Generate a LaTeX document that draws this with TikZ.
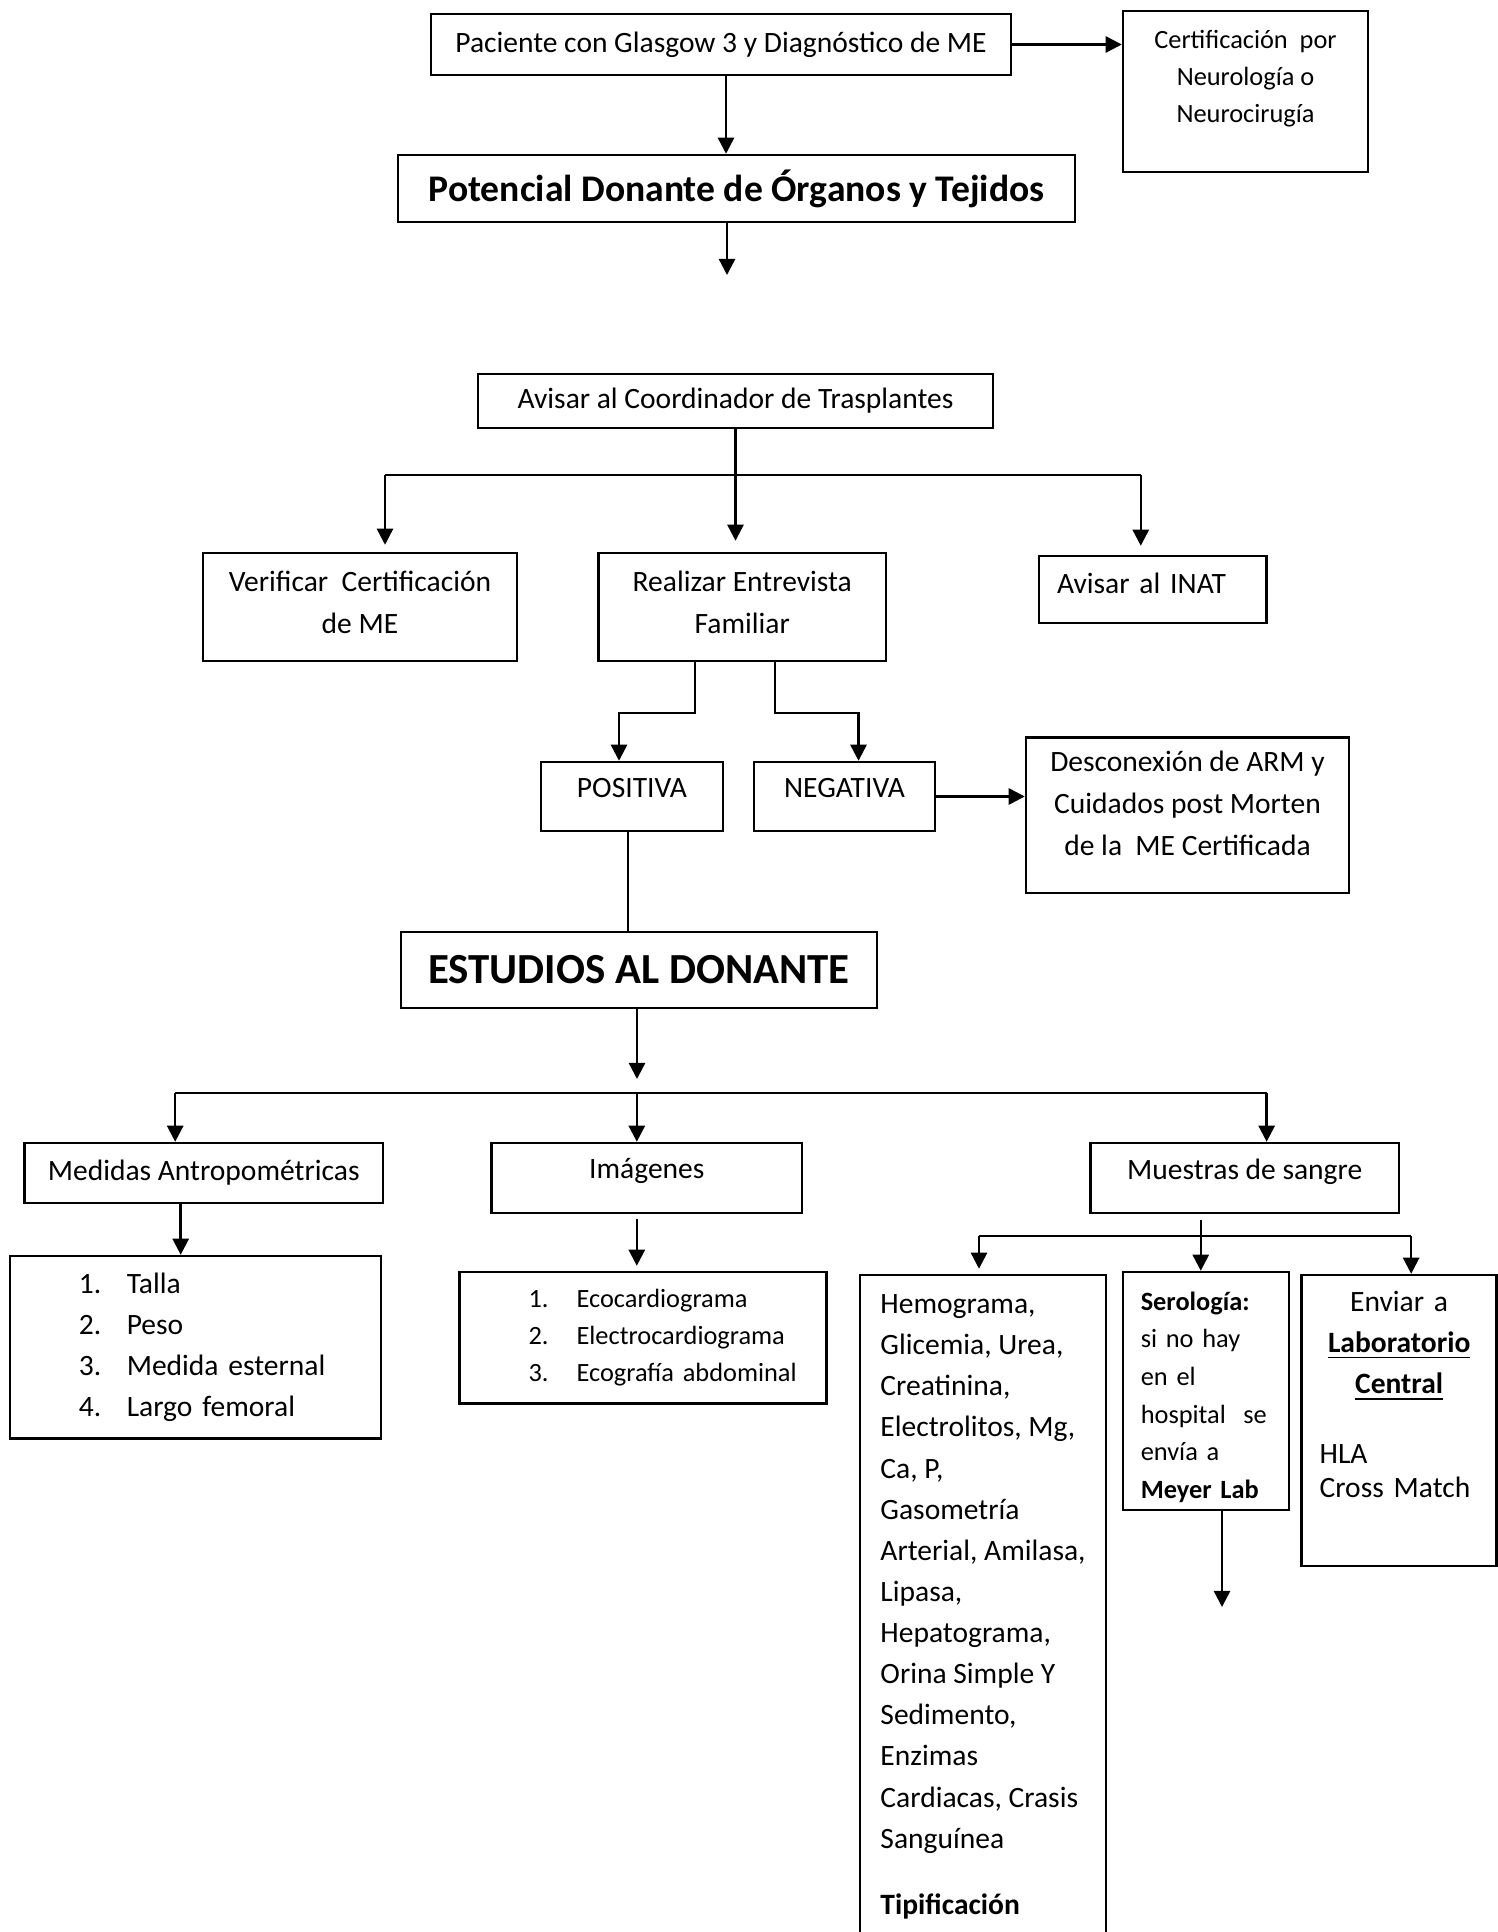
\documentclass[tikz,border=0pt]{standalone}
\usepackage{fontspec}
\setmainfont{Carlito}
\usetikzlibrary{arrows.meta}
\newcommand{\dnfont}[2]{\fontsize{#1}{#2}\selectfont}
\newcommand{\dnitem}[2]{\makebox[0.48cm][l]{#1}\mbox{#2}}
\newcommand{\lowstrut}[1]{\rule[-#1]{0pt}{#1}}
\tikzset{
  dnbox/.style={draw, line width=0.7pt, align=center, inner sep=0pt, font=\dnfont{8.4}{10}},
  dnarr/.style={-{Triangle[length=4.6pt, width=4.6pt]}, line width=0.7pt},
  dnline/.style={line width=0.7pt}
}

\begin{document}
\begin{tikzpicture}
  \useasboundingbox (0,0) rectangle (14.97,-19.32);
  \node[dnbox, minimum width=5.80cm, minimum height=0.61cm] (paciente) at (7.21,-0.445) {Paciente con Glasgow 3 y Diagnóstico de ME};
  \node[dnbox, minimum width=2.45cm, minimum height=1.61cm, font=\dnfont{7.5}{10.5}] (certif) at (12.455,-0.915) {Certificación\ \ por\\Neurología o\\Neurocirugía\lowstrut{8.5pt}};
  \node[dnbox, minimum width=6.77cm, minimum height=0.67cm, font=\dnfont{10.7}{13}\bfseries] (potencial) at (7.365,-1.885) {Potencial Donante de Órganos y Tejidos};
  \coordinate (potend) at (7.27,-2.75);
  \node[dnbox, minimum width=5.15cm, minimum height=0.54cm] (coordinador) at (7.355,-4.01) {Avisar al Coordinador de Trasplantes};
  \coordinate (coordbar) at (0,-4.75);
  \node[dnbox, minimum width=3.14cm, minimum height=1.08cm, font=\dnfont{8.4}{12}] (verificar) at (3.60,-6.07) {Verificar\ \ Certificación\\de ME\lowstrut{2.6pt}};
  \node[dnbox, minimum width=2.875cm, minimum height=1.08cm, font=\dnfont{8.4}{12}] (entrevista) at (7.4225,-6.07) {Realizar Entrevista\\Familiar\lowstrut{2.6pt}};
  \node[dnbox, minimum height=0.67cm, text width=1.915cm, inner xsep=0.18cm, align=left] (inat) at (11.5275,-5.895) {Avisar al INAT\lowstrut{3.7pt}};
  \node[dnbox, minimum width=1.82cm, minimum height=0.69cm] (positiva) at (6.32,-7.965) {POSITIVA\lowstrut{4.6pt}};
  \node[dnbox, minimum width=1.81cm, minimum height=0.69cm] (negativa) at (8.445,-7.965) {NEGATIVA\lowstrut{4.6pt}};
  \node[dnbox, minimum width=3.23cm, minimum height=1.555cm, font=\dnfont{8.4}{12}] (desconexion) at (11.875,-8.1525) {Desconexión de ARM y\\Cuidados post Morten\\de la\ \ ME Certificada\lowstrut{6.8pt}};
  \node[dnbox, minimum width=4.76cm, minimum height=0.76cm, font=\dnfont{12.2}{14}\bfseries] (estudios) at (6.39,-9.70) {ESTUDIOS AL DONANTE};
  \coordinate (estend) at (6.37,-10.79);
  \coordinate (estbar) at (0,-10.93);
  \node[dnbox, minimum width=3.586cm, minimum height=0.60cm] (medidas) at (2.037,-11.73) {Medidas Antropométricas};
  \node[dnbox, minimum width=3.104cm, minimum height=0.70cm] (imagenes) at (6.468,-11.78) {Imágenes\lowstrut{5.2pt}};
  \node[dnbox, minimum width=3.083cm, minimum height=0.70cm] (muestras) at (12.4465,-11.78) {Muestras de sangre\lowstrut{5.2pt}};
  \node[dnbox, minimum height=1.826cm, text width=2.332cm, inner xsep=0.69cm, align=left, font=\dnfont{8.4}{11.7}] (medlist) at (1.954,-13.473) {\dnitem{1.}{Talla}\\\dnitem{2.}{Peso}\\\dnitem{3.}{Medida esternal}\\\dnitem{4.}{Largo femoral}};
  \node[dnbox, minimum height=1.315cm, text width=2.29cm, inner xsep=0.69cm, align=left, font=\dnfont{7.5}{10.5}] (imglist) at (6.431,-13.3775) {\dnitem{1.}{Ecocardiograma}\\\dnitem{2.}{Electrocardiograma}\\\dnitem{3.}{Ecografía abdominal}};
  \coordinate (muesbar) at (0,-12.36);
  \node[dnbox, minimum width=2.46cm, minimum height=7.00cm, align=left, font=\dnfont{8.4}{11.7}] (hemograma) at (9.83,-16.25) {Hemograma,\\Glicemia, Urea,\\Creatinina,\\Electrolitos, Mg,\\Ca, P,\\Gasometría\\Arterial, Amilasa,\\Lipasa,\\Hepatograma,\\Orina Simple Y\\Sedimento,\\Enzimas\\Cardiacas, Crasis\\Sanguínea\\[7.3pt]\textbf{Tipificación}\lowstrut{11.5pt}};
  \node[dnbox, minimum height=2.38cm, text width=1.30cm, inner xsep=0.18cm, align=left, font=\dnfont{7.5}{10.7}] (serologia) at (12.0575,-13.91) {\rule{0pt}{8.8pt}\textbf{Serología:}\\si no hay\\en el\\hospital\ \ se\\envía a\\\textbf{Meyer Lab}};
  \coordinate (serend) at (12.22,-16.07);
  \node[dnbox, minimum height=2.91cm, text width=1.59cm, inner xsep=0.18cm, font=\dnfont{8.4}{11.7}] (laboratorio) at (13.9915,-14.205) {Enviar a\\\underline{\textbf{Laboratorio}}\\\underline{\textbf{Central}}\\[8.2pt]\makebox[1.59cm][l]{HLA}\\[-2pt]\makebox[1.59cm][l]{Cross Match}\lowstrut{14.8pt}};
  \draw[dnarr] (paciente.east) -- (paciente.east -| certif.west);
  \draw[dnarr] ([xshift=0.05cm]paciente.south) -- ([xshift=0.05cm]paciente.south |- potencial.north);
  \draw[dnarr] (potencial.south -| potend) -- (potend);
  \draw[dnline] ([xshift=0.25cm]verificar.north |- coordbar) -- ([xshift=-0.12cm]inat.north |- coordbar);
  \draw[dnarr, shorten >=0.07cm] ([xshift=0.25cm]verificar.north |- coordbar) -- ([xshift=0.25cm]verificar.north);
  \draw[dnarr, shorten >=0.11cm] (coordinador.south) -- (coordinador.south |- entrevista.north);
  \draw[dnarr, shorten >=0.09cm] ([xshift=-0.12cm]inat.north |- coordbar) -- ([xshift=-0.12cm]inat.north);
  \draw[dnarr] ([xshift=-0.475cm]entrevista.south) -- ++(0,-0.51) -| ([xshift=-0.13cm]positiva.north);
  \draw[dnarr] ([xshift=0.33cm]entrevista.south) -- ++(0,-0.51) -| ([xshift=0.14cm]negativa.north);
  \draw[dnarr] (negativa.east) -- (negativa.east -| desconexion.west);
  \draw[dnline] ([xshift=-0.04cm]positiva.south) -- ([xshift=-0.04cm]positiva.south |- estudios.north);
  \draw[dnarr] (estudios.south -| estend) -- (estend);
  \draw[dnline] ([xshift=-0.285cm]medidas.north |- estbar) -- ([xshift=0.22cm]muestras.north |- estbar);
  \draw[dnarr] ([xshift=-0.285cm]medidas.north |- estbar) -- ([xshift=-0.285cm]medidas.north);
  \draw[dnarr] ([xshift=-0.1cm]imagenes.north |- estbar) -- ([xshift=-0.1cm]imagenes.north);
  \draw[dnarr] ([xshift=0.22cm]muestras.north |- estbar) -- ([xshift=0.22cm]muestras.north);
  \draw[dnarr] ([xshift=-0.23cm]medidas.south) -- ([xshift=-0.23cm]medidas.south |- medlist.north);
  \draw[dnarr, shorten <=0.045cm, shorten >=0.05cm] ([xshift=-0.1cm]imagenes.south) -- ([xshift=-0.1cm]imagenes.south |- imglist.north);
  \draw[dnarr, shorten <=0.06cm] ([xshift=-0.05cm]serologia.north |- muestras.south) -- ([xshift=-0.05cm]serologia.north);
  \draw[dnline] ([xshift=-0.04cm]hemograma.north |- muesbar) -- ([xshift=0.12cm]laboratorio.north |- muesbar);
  \draw[dnarr, shorten >=0.05cm] ([xshift=-0.04cm]hemograma.north |- muesbar) -- ([xshift=-0.04cm]hemograma.north);
  \draw[dnarr] ([xshift=0.12cm]laboratorio.north |- muesbar) -- ([xshift=0.12cm]laboratorio.north);
  \draw[dnarr] (serologia.south -| serend) -- (serend);
\end{tikzpicture}
\end{document}
